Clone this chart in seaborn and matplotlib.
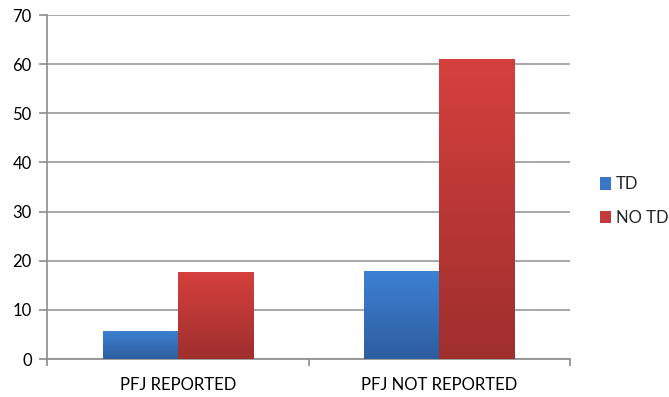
import numpy as np
import pandas as pd
import matplotlib
matplotlib.use("Agg")
import matplotlib.pyplot as plt
import seaborn as sns
from matplotlib.colors import LinearSegmentedColormap
from matplotlib.patches import Patch

categories = ["PFJ REPORTED", "PFJ NOT REPORTED"]
series = ["TD", "NO TD"]
td_values = [5.7, 17.9]
notd_values = [17.8, 61.0]
yticks = [0, 10, 20, 30, 40, 50, 60, 70]

df = pd.DataFrame({
    "cat": categories * 2,
    "series": [series[0]] * 2 + [series[1]] * 2,
    "value": td_values + notd_values,
})

sns.set_theme(style="white")
plt.rcParams["font.family"] = ["Lato", "DejaVu Sans"]

fig = plt.figure(figsize=(6.69, 3.97), dpi=100)
ax = fig.add_axes([47 / 669, 1 - 359 / 397, (570 - 47) / 669, (359 - 15) / 397])

palette = {"TD": "#3a76c6", "NO TD": "#c23b3a"}
sns.barplot(data=df, x="cat", y="value", hue="series", palette=palette,
            order=categories, hue_order=series, width=0.575, ax=ax,
            legend=False, saturation=1)

grads = {
    "TD": LinearSegmentedColormap.from_list("b", ["#2d5e9e", "#3d80d3"]),
    "NO TD": LinearSegmentedColormap.from_list("r", ["#9e2f2d", "#d5403e"]),
}
grad = np.linspace(0, 1, 256).reshape(-1, 1)
for container, s in zip(ax.containers, series):
    for bar in container:
        x0, y0 = bar.get_x(), bar.get_y()
        w, h = bar.get_width(), bar.get_height()
        bar.set_edgecolor("none")
        im = ax.imshow(grad, cmap=grads[s], origin="lower", aspect="auto",
                       extent=[x0, x0 + w, y0, y0 + h], zorder=3)
        im.set_clip_path(bar)

ax.set_xlim(-0.5, 1.5)
ax.set_ylim(0, 70)
ax.set_yticks(yticks)
ax.set_xlabel("")
ax.set_ylabel("")
ax.yaxis.grid(True, color="#999999", linewidth=1.2)
ax.set_axisbelow(True)
for side in ["top", "right"]:
    ax.spines[side].set_visible(False)
for side in ["left", "bottom"]:
    ax.spines[side].set_color("#8c8c8c")
    ax.spines[side].set_linewidth(1.2)

ax.tick_params(axis="y", left=True, length=6, width=1.2, color="#8c8c8c",
               labelsize=12, labelcolor="black", pad=5)
ax.set_xticks([0, 1])
ax.set_xticklabels(categories)
ax.tick_params(axis="x", bottom=False, labelsize=12, labelcolor="black", pad=7)
ax.set_xticks([-0.5, 0.5, 1.5], minor=True)
ax.tick_params(axis="x", which="minor", bottom=True, length=5, width=1.2,
               color="#8c8c8c", direction="out")

handles = [Patch(facecolor="#3a76c6", edgecolor="none", label="TD"),
           Patch(facecolor="#c23b3a", edgecolor="none", label="NO TD")]
fig.legend(handles=handles, loc="center left", bbox_to_anchor=(593 / 669, 1 - 201 / 397),
           frameon=False, fontsize=12, handlelength=0.65, handleheight=0.75,
           handletextpad=0.3, labelspacing=1.05, borderaxespad=0)

fig.savefig("out.png", dpi=100)
